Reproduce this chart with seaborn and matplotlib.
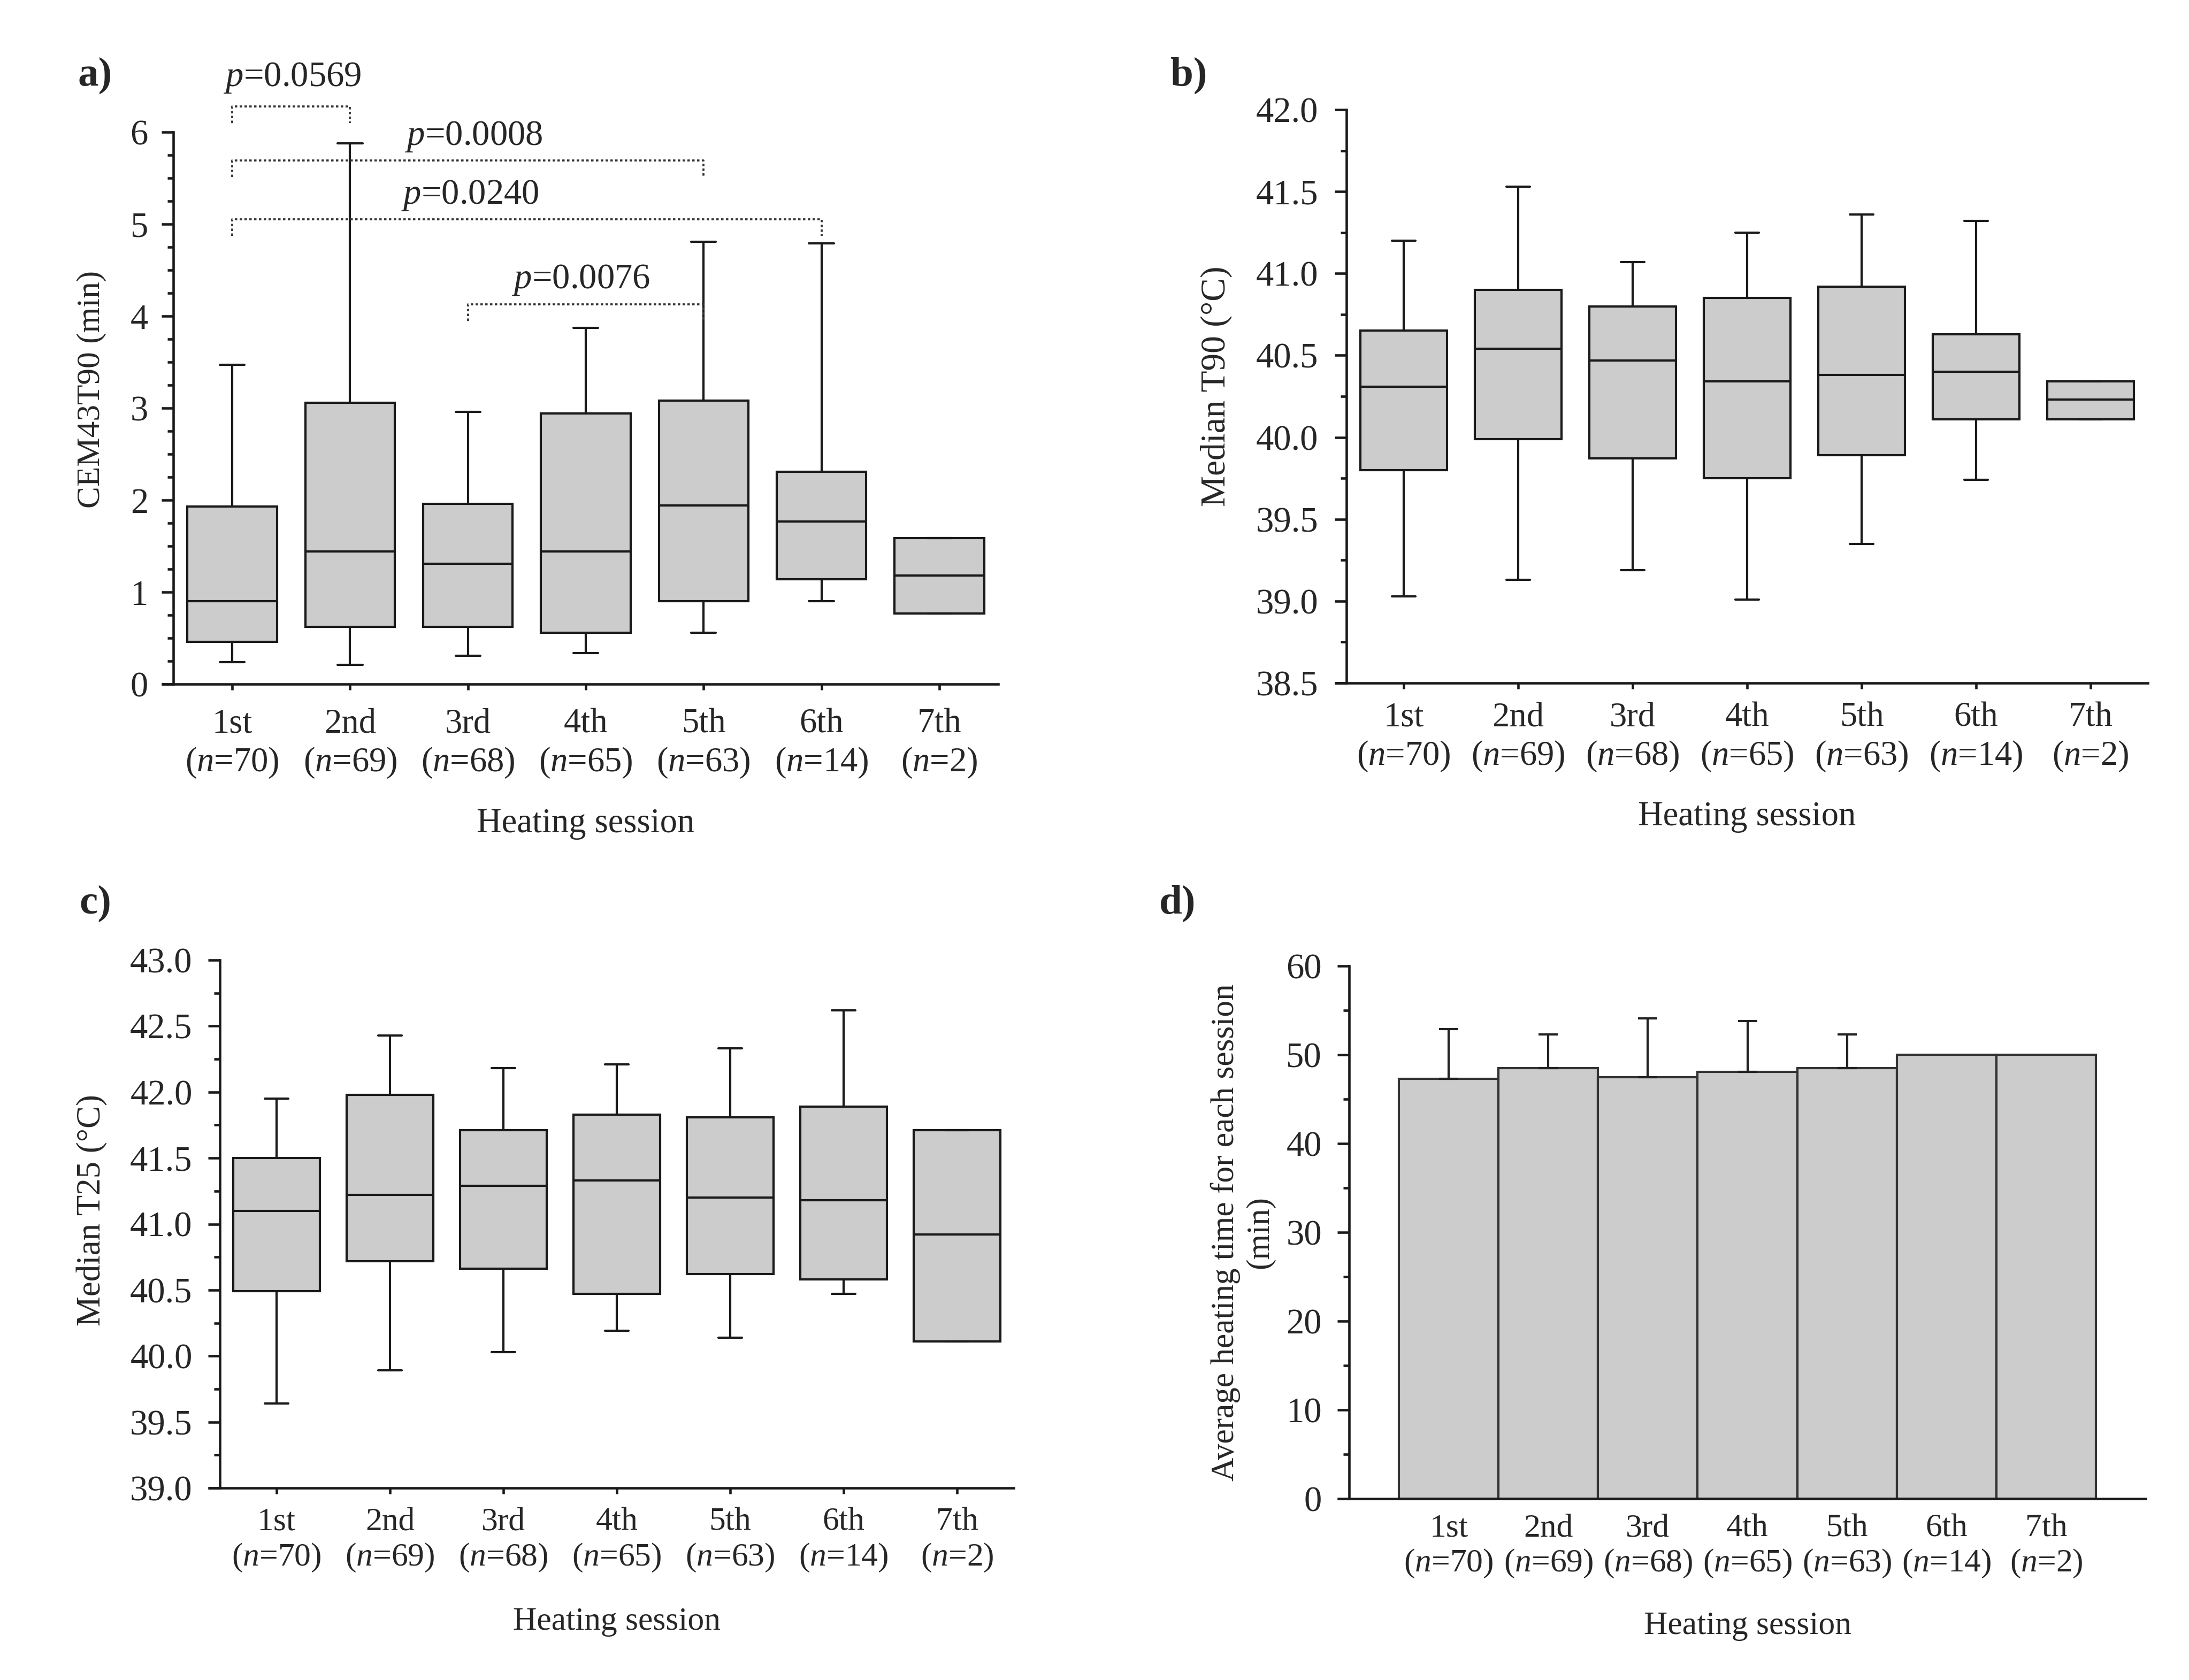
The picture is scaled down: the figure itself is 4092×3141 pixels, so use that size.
import numpy as np
import pandas as pd
import matplotlib
matplotlib.use("Agg")
import matplotlib.pyplot as plt
import seaborn as sns
from matplotlib.ticker import MultipleLocator, FormatStrFormatter

# ---------------- data ----------------
sessions = ["1st", "2nd", "3rd", "4th", "5th", "6th", "7th"]
n_values = [70, 69, 68, 65, 63, 14, 2]

# a) CEM43T90 (min): lower whisker, Q1, median, Q3, upper whisker
cem_low = [0.24, 0.21, 0.31, 0.34, 0.56, 0.90, 0.77]
cem_q1 = [0.46, 0.62, 0.62, 0.56, 0.90, 1.14, 0.77]
cem_med = [0.90, 1.44, 1.31, 1.44, 1.94, 1.77, 1.18]
cem_q3 = [1.93, 3.06, 1.96, 2.94, 3.08, 2.31, 1.59]
cem_high = [3.47, 5.88, 2.96, 3.87, 4.81, 4.79, 1.59]

# b) Median T90 (°C)
t90_low = [39.03, 39.13, 39.19, 39.01, 39.35, 39.74, 40.11]
t90_q1 = [39.80, 39.99, 39.87, 39.75, 39.89, 40.11, 40.11]
t90_med = [40.31, 40.54, 40.47, 40.34, 40.38, 40.40, 40.23]
t90_q3 = [40.65, 40.90, 40.80, 40.85, 40.92, 40.63, 40.34]
t90_high = [41.20, 41.53, 41.07, 41.25, 41.36, 41.32, 40.34]

# c) Median T25 (°C)
t25_low = [39.64, 39.89, 40.03, 40.19, 40.14, 40.47, 40.11]
t25_q1 = [40.49, 40.72, 40.66, 40.47, 40.62, 40.58, 40.11]
t25_med = [41.10, 41.22, 41.29, 41.33, 41.20, 41.18, 40.92]
t25_q3 = [41.50, 41.98, 41.71, 41.83, 41.81, 41.89, 41.71]
t25_high = [41.95, 42.43, 42.18, 42.21, 42.33, 42.62, 41.71]

# d) Average heating time (min): mean and SD
time_mean = [47.3, 48.5, 47.5, 48.1, 48.5, 50.0, 50.0]
time_sd = [5.6, 3.8, 6.6, 5.7, 3.8, 0.0, 0.0]

# significance brackets in panel a
sig_pairs = [(0, 1), (0, 4), (0, 5), (2, 4)]
sig_level = [6.28, 5.69, 5.05, 4.13]
sig_p = ["0.0569", "0.0008", "0.0240", "0.0076"]
sig_text_x = [0.51, 2.05, 2.02, 2.96]
sig_text_y = [6.50, 5.86, 5.22, 4.30]

# ---------------- style ----------------
sns.set_theme(style="ticks")
plt.rcParams["font.family"] = ["Liberation Serif", "DejaVu Serif"]
plt.rcParams["mathtext.fontset"] = "custom"
plt.rcParams["mathtext.rm"] = "Liberation Serif"
plt.rcParams["mathtext.it"] = "Liberation Serif:italic"
plt.rcParams["axes.linewidth"] = 1.1
plt.rcParams["axes.edgecolor"] = "#1a1a1a"

FS = 16
GRAY = "#cccccc"
LINE = "#1a1a1a"
W, H = 4092, 3141

fig = plt.figure(figsize=(W / 300, H / 300), dpi=300)

def px_axes(left, top, right, bottom):
    return fig.add_axes([left / W, 1 - bottom / H, (right - left) / W, (bottom - top) / H])

ax_a = px_axes(324, 247, 1866, 1279)
ax_b = px_axes(2517, 205, 4015, 1277)
ax_c = px_axes(411, 1795, 1895, 2782)
ax_d = px_axes(2522, 1806, 4011, 2802)

tick_labels = [f"{s}\n($\\mathit{{n}}$={n})" for s, n in zip(sessions, n_values)]


def box_frame(low, q1, med, q3, high):
    rows = []
    for s, vals in zip(sessions, zip(low, q1, med, q3, high)):
        for v in vals:
            rows.append((s, v))
    return pd.DataFrame(rows, columns=["session", "value"])


def draw_box(ax, low, q1, med, q3, high):
    df = box_frame(low, q1, med, q3, high)
    sns.boxplot(data=df, x="session", y="value", order=sessions, ax=ax,
                whis=(0, 100), showfliers=False, width=0.76, color=GRAY,
                saturation=1, linecolor=LINE, linewidth=1.0, capwidths=0.21)


def style_axis(ax, ymin, ymax, major, minor, fmt, ylabel, ylab_x, ylab_y,
               xlab_y, xpad, ypad, xfs, yfs, xticks_len=2.7):
    ax.set_ylim(ymin, ymax)
    ax.yaxis.set_major_locator(MultipleLocator(major))
    ax.yaxis.set_minor_locator(MultipleLocator(minor))
    ax.yaxis.set_major_formatter(FormatStrFormatter(fmt))
    ax.tick_params(axis="y", which="major", direction="out", length=5.3,
                   width=1.1, labelsize=FS, pad=ypad, color=LINE)
    ax.tick_params(axis="y", which="minor", direction="out", length=2.6,
                   width=1.1, color=LINE)
    ax.tick_params(axis="x", which="major", direction="out", length=xticks_len,
                   width=1.1, labelsize=xfs, pad=xpad, color=LINE)
    ax.tick_params(axis="x", which="minor", length=0)
    for sp in ["top", "right"]:
        ax.spines[sp].set_visible(False)
    ax.set_ylabel(ylabel, fontsize=yfs, va="center", ha="center")
    ax.yaxis.set_label_coords(ylab_x, ylab_y)
    ax.set_xlabel("Heating session", fontsize=xfs, va="center")
    ax.xaxis.set_label_coords(0.5, xlab_y)
    # short extension of the x axis line to the left of the y axis
    bb = ax.get_position()
    ext = 22 / (bb.width * W)
    ax.plot([-ext, 0], [0, 0], transform=ax.transAxes, color=LINE,
            lw=1.1, clip_on=False, solid_capstyle="butt")


# ---- a ----
draw_box(ax_a, cem_low, cem_q1, cem_med, cem_q3, cem_high)
ax_a.set_xlim(-0.5, 6.5)
ax_a.set_xticks(range(7))
ax_a.set_xticklabels(tick_labels)
style_axis(ax_a, 0, 6, 1, 0.25, "%d", "CEM43T90 (min)", -0.099, 0.534, -0.253,
           8.2, 6.0, 15.5, 14.7)

drop = 0.18
for (i, j), lev, p, tx, ty in zip(sig_pairs, sig_level, sig_p, sig_text_x, sig_text_y):
    ax_a.plot([i, i, j, j], [lev - drop, lev, lev, lev - drop], color="#333333",
              lw=0.9, ls=(0, (1.2, 1.2)), clip_on=False)
    ax_a.text(tx, ty, f"$\\mathit{{p}}$={p}", ha="center", va="baseline",
              fontsize=FS, clip_on=False)

# ---- b ----
draw_box(ax_b, t90_low, t90_q1, t90_med, t90_q3, t90_high)
ax_b.set_xlim(-0.5, 6.5)
ax_b.set_xticks(range(7))
ax_b.set_xticklabels(tick_labels)
style_axis(ax_b, 38.5, 42.0, 0.5, 0.25, "%.1f", "Median T90 (°C)", -0.162, 0.518,
           -0.233, 5.8, 7.4, 15.5, 15.7)

# ---- c ----
draw_box(ax_c, t25_low, t25_q1, t25_med, t25_q3, t25_high)
ax_c.set_xlim(-0.5, 6.5)
ax_c.set_xticks(range(7))
ax_c.set_xticklabels(tick_labels)
style_axis(ax_c, 39.0, 43.0, 0.5, 0.25, "%.1f", "Median T25 (°C)", -0.161, 0.526,
           -0.254, 6.0, 7.0, 14.8, 15.1)

# ---- d ----
dfd = pd.DataFrame({"session": sessions, "time": time_mean, "sd": time_sd})
sns.barplot(data=dfd, x="session", y="time", order=sessions, ax=ax_d,
            color=GRAY, saturation=1, edgecolor="#333333", linewidth=1.0,
            width=1.0, errorbar=None)
has_err = dfd["sd"] > 0
xi = np.arange(len(sessions))[has_err.values]
ax_d.errorbar(xi, dfd["time"][has_err], yerr=[np.zeros(len(xi)), dfd["sd"][has_err]],
              fmt="none", ecolor="#222222", elinewidth=1.0, capsize=4.3,
              capthick=1.0, zorder=3)
ax_d.set_xlim(-1, 7)
ax_d.set_xticks(range(7))
ax_d.set_xticklabels(tick_labels)
style_axis(ax_d, 0, 60, 10, 5, "%d", "Average heating time for each session\n(min)",
           -0.134, 0.5, -0.239, 6.7, 7.0, 14.8, 14.7, xticks_len=0)
ax_d.yaxis.label.set_multialignment("center")

# ---- panel letters ----
for lbl, x, y in [("a)", 145, 160), ("b)", 2188, 160), ("c)", 148, 1708), ("d)", 2167, 1708)]:
    fig.text(x / W, 1 - y / H, lbl, fontsize=18.5, fontweight="bold", ha="left",
             va="baseline")

fig.savefig("out.png", dpi=300, facecolor="white")
